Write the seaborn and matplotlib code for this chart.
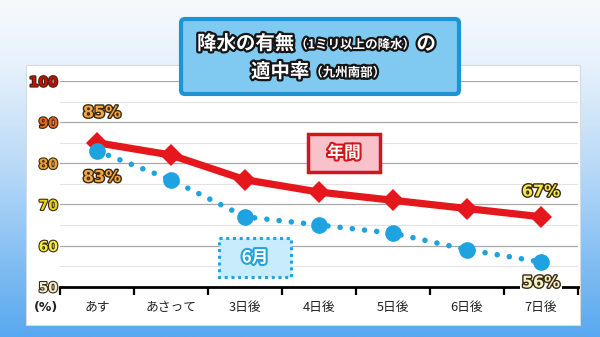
import numpy as np
import matplotlib
matplotlib.use("Agg")
import matplotlib.pyplot as plt
import matplotlib.patheffects as pe
from matplotlib.patches import Rectangle, FancyBboxPatch
from matplotlib.colors import LinearSegmentedColormap
from matplotlib.ticker import FixedLocator
import seaborn as sns

# ---- data ----
days = ["あす", "あさって", "3日後", "4日後", "5日後", "6日後", "7日後"]
annual = [85, 82, 76, 73, 71, 69, 67]
june = [83, 76, 67, 65, 63, 59, 56]
y_ticks = [50, 60, 70, 80, 90, 100]
y_tick_labels = ["50", "60", "70", "80", "90", "100"]
title_line1 = ["降水の有無", "（1ミリ以上の降水）", "の"]
title_line2 = ["適中率", "（九州南部）"]
series_names = ["年間", "6月"]
unit_label = "(%)"

# ---- style ----
sns.set_theme(style="white")
plt.rcParams["font.family"] = ["Noto Sans CJK JP", "DejaVu Sans"]

RED = "#e5161c"
BLUE = "#1ea2e0"
W, H = 600, 337

fig = plt.figure(figsize=(6, 3.37), dpi=100)

# background
bg = fig.add_axes([0, 0, 1, 1], zorder=0)
bg.set_xlim(0, W)
bg.set_ylim(H, 0)
bg.axis("off")
grad = np.linspace(0, 1, 256).reshape(-1, 1)
cmap = LinearSegmentedColormap.from_list(
    "bg", [(0, "#f7fafd"), (0.2, "#e6f1fb"), (0.5, "#b8d9f7"), (1.0, "#58a8ef")])
bg.imshow(grad, extent=[0, W, H, 0], cmap=cmap, aspect="auto")
bg.add_patch(Rectangle((26, 65), 554, 260, fc="white", ec="#d5dbe0", lw=0.8))

# main axes
ax = fig.add_axes([60 / W, 1 - 286.7 / H, 518 / W, (286.7 - 81) / H], zorder=2)
ax.patch.set_alpha(0)

sns.lineplot(x=days, y=annual, ax=ax, color=RED, lw=5.2, marker="D", ms=11,
             mec=RED, mew=0, sort=False, zorder=3)
sns.lineplot(x=days, y=june, ax=ax, color=BLUE, lw=4,
             linestyle=(0, (0.01, 2.2)), dash_capstyle="round",
             marker="o", ms=12, mec=BLUE, mew=0, sort=False, zorder=4)

ax.set_xlim(-0.5, len(days) - 0.5)
ax.set_ylim(50, 100)
ax.set_xlabel("")
ax.set_ylabel("")

ax.set_yticks(y_ticks)
ax.set_yticks(np.arange(55, 100, 10), minor=True)
ax.grid(axis="y", which="major", color="#a9a9a9", lw=0.9)
ax.grid(axis="y", which="minor", color="#e3e3e3", lw=0.8)
ax.grid(axis="x", which="both", visible=False)
ax.set_axisbelow(True)

for s in ["left", "right", "top"]:
    ax.spines[s].set_visible(False)
ax.spines["bottom"].set_color("black")
ax.spines["bottom"].set_linewidth(2)

ax.xaxis.set_minor_locator(FixedLocator(np.arange(-0.5, len(days), 1.0)))
ax.tick_params(axis="x", which="major", length=0, pad=10, labelsize=9.2,
               labelcolor="#222222")
ax.tick_params(axis="x", which="minor", bottom=True, length=6, width=1.6,
               color="black", direction="out")
ax.tick_params(axis="y", which="both", length=0, pad=1.5)

ytick_colors = ["#efefd6", "#f2ee3a", "#e8d21c", "#f0a030", "#e2641e", "#cf0a0a"]
ax.set_yticklabels(y_tick_labels)
for lab, c in zip(ax.get_yticklabels(), ytick_colors):
    lab.set_fontfamily("DejaVu Sans")
    lab.set_fontweight("bold")
    lab.set_fontsize(10)
    lab.set_color(c)
    lab.set_path_effects([pe.withStroke(linewidth=1.6, foreground="#3a2a10")])

# value labels
stroke = [pe.withStroke(linewidth=2, foreground="#3a2a10")]
lab_kw = dict(textcoords="offset points", ha="center", va="center",
              fontfamily="DejaVu Sans", fontweight="bold", fontsize=11.5,
              path_effects=stroke, zorder=6)
ax.annotate(f"{annual[0]}%", xy=(0, annual[0]), xytext=(3.6, 21.5),
            color="#f6a545", **lab_kw)
ax.annotate(f"{june[0]}%", xy=(0, june[0]), xytext=(3.6, -19),
            color="#f6a545", **lab_kw)
ax.annotate(f"{annual[-1]}%", xy=(6, annual[-1]), xytext=(0, 18),
            color="#f3ea4a", **lab_kw)
ax.annotate(f"{june[-1]}%", xy=(6, june[-1]), xytext=(0, -15),
            color="#f3f1c8", annotation_clip=False,
            bbox=dict(fc="white", ec="none", pad=1.5), **lab_kw)

# foreground overlay
fg = fig.add_axes([0, 0, 1, 1], zorder=5)
fg.set_xlim(0, W)
fg.set_ylim(H, 0)
fg.axis("off")
fg.patch.set_alpha(0)

fg.text(46, 307, unit_label, ha="center", va="center", fontsize=9,
        fontweight="bold", color="#222222", fontfamily="DejaVu Sans")

# title box
fg.add_patch(FancyBboxPatch((181, 19), 278, 75,
                            boxstyle="round,pad=0,rounding_size=4",
                            fc="#80caf2", ec="#1b95d5", lw=3))
tstroke = [pe.withStroke(linewidth=3.2, foreground="#161616")]
tkw = dict(color="white", fontweight="bold", va="center", ha="left",
           path_effects=tstroke)
t = fg.text(197, 44, title_line1[0], fontsize=14, **tkw)
t = fg.annotate(title_line1[1], xy=(1, 0.45), xycoords=t, xytext=(0.5, 0),
                textcoords="offset points", fontsize=9, **tkw)
t = fg.annotate(title_line1[2], xy=(1, 0.55), xycoords=t, xytext=(1, 0),
                textcoords="offset points", fontsize=14, **tkw)
t = fg.text(251, 72, title_line2[0], fontsize=14, **tkw)
t = fg.annotate(title_line2[1], xy=(1, 0.45), xycoords=t, xytext=(0.5, 0),
                textcoords="offset points", fontsize=9, **tkw)

# series name boxes
fg.add_patch(Rectangle((308, 134), 72, 38, fc="#f9c2ca", ec="#d4161c", lw=2.5))
fg.text(344, 153, series_names[0], ha="center", va="center", fontsize=12,
        fontweight="bold", color="white",
        path_effects=[pe.withStroke(linewidth=3, foreground="#d4161c")])
fg.add_patch(Rectangle((219, 238), 72, 39, fc="#c8ecfb", ec="#27a3d9", lw=2.2,
                       ls=(0, (1, 1.2))))
fg.text(255, 257.5, series_names[1], ha="center", va="center", fontsize=12,
        fontweight="bold", color="white",
        path_effects=[pe.withStroke(linewidth=3, foreground="#27a3d9")])

fig.savefig("out.png", dpi=100)
